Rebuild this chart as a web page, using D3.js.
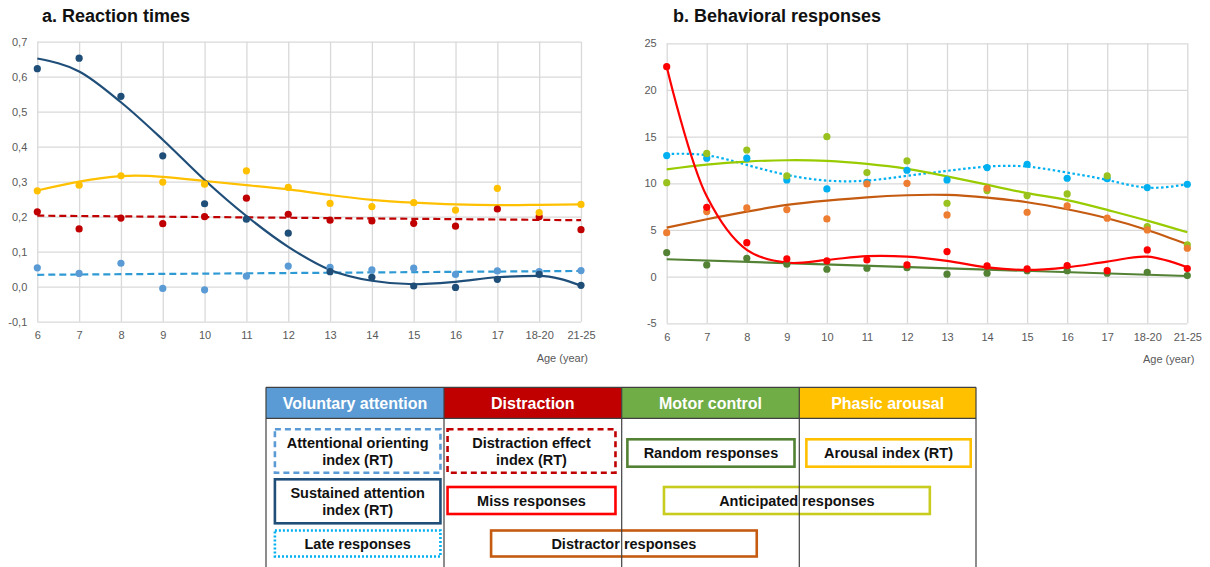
<!DOCTYPE html>
<html><head><meta charset="utf-8">
<script src="https://cdn.jsdelivr.net/npm/d3@7"></script>
<style>
body{margin:0;background:#fff}
svg{display:block}
text{font-family:"Liberation Sans",Arial,sans-serif}
</style>
</head><body>
<svg id="c" width="1210" height="567"></svg>
<script>
// ---------- categories ----------
const ages = ["6","7","8","9","10","11","12","13","14","15","16","17","18-20","21-25"];

// ---------- panel a: Reaction times ----------
const aTicks = [-0.1,0,0.1,0.2,0.3,0.4,0.5,0.6,0.7];
const sustainedPts = [0.623,0.653,0.544,0.374,0.237,0.193,0.153,0.043,0.027,0.002,-0.002,0.021,0.035,0.004];
const sustainedFit = [0.652,0.615,0.527,0.420,0.305,0.202,0.114,0.048,0.017,0.007,0.014,0.027,0.031,0.003];
const arousalPts = [0.274,0.290,0.317,0.299,0.293,0.331,0.284,0.238,0.229,0.240,0.219,0.281,0.212,0.235];
const arousalFit = [0.275,0.300,0.316,0.314,0.302,0.290,0.278,0.262,0.248,0.240,0.235,0.233,0.234,0.235];
const distrEffPts = [0.214,0.165,0.196,0.180,0.200,0.253,0.207,0.190,0.188,0.181,0.173,0.222,0.200,0.163];
const distrEffFit = [0.203,0.190];           // linear trend: first and last age
const orientPts = [0.054,0.038,0.067,-0.005,-0.009,0.030,0.059,0.055,0.048,0.053,0.035,0.045,0.043,0.046];
const orientFit = [0.034,0.045];             // linear trend: first and last age

// ---------- panel b: Behavioral responses ----------
const bTicks = [-5,0,5,10,15,20,25];
const missPts = [22.5,7.43,3.64,1.90,1.68,1.79,1.25,2.68,1.15,0.83,1.18,0.64,2.86,0.86];
const missFit = [22.5,8.6,2.86,1.5,1.79,2.2,2.14,1.68,1.0,0.72,1.0,1.61,2.14,1.0];
const distractorPts = [4.71,6.97,7.36,7.18,6.18,9.93,10.0,6.61,9.47,6.9,7.58,6.26,5.0,3.04];
const distractorFit = [5.25,6.15,6.97,7.68,8.15,8.5,8.72,8.75,8.47,7.97,7.22,6.26,5.0,3.47];
const anticipPts = [10.07,13.2,13.57,10.79,15.0,11.15,12.4,7.86,9.22,8.68,8.86,10.79,5.36,3.4];
const anticipFit = [11.5,12.0,12.33,12.47,12.4,12.08,11.55,10.75,9.85,8.95,8.2,7.15,6.0,4.75];
const latePts = [12.97,12.69,12.69,10.36,9.4,10.1,11.4,10.36,11.68,12.04,10.54,10.5,9.54,9.9];
const lateFit = [13.15,13.0,11.97,10.9,10.29,10.29,10.8,11.33,11.79,11.79,11.15,10.36,9.54,9.9];
const randomPts = [2.57,1.25,1.97,1.33,0.79,0.9,0.96,0.26,0.36,0.64,0.64,0.36,0.47,0.11];
const randomFit = [1.86,0.07];               // linear trend: first and last age

// ---------- legend table ----------
const groups = ["Voluntary attention","Distraction","Motor control","Phasic arousal"];
const groupColors = ["#5B9BD5","#C00000","#70AD47","#FFC000"];
const legendItems = [
  {lines:["Attentional orienting","index (RT)"], color:"#5B9BD5", dash:"6,4", col:0, x0:0.05, x1:0.98, row:0},
  {lines:["Sustained attention","index (RT)"], color:"#1F4E79", dash:null, col:0, x0:0.05, x1:0.98, row:1},
  {lines:["Late responses"], color:"#00B0F0", dash:"2,2", col:0, x0:0.05, x1:0.98, row:2},
  {lines:["Distraction effect","index (RT)"], color:"#C00000", dash:"6,4", col:1, x0:0.02, x1:0.965, row:0},
  {lines:["Miss responses"], color:"#FF0000", dash:null, col:1, x0:0.02, x1:0.965, row:1},
  {lines:["Distractor responses"], color:"#C55A11", dash:null, col:1, x0:0.265, x1:1.76, row:2},
  {lines:["Random responses"], color:"#548235", dash:null, col:2, x0:0.032, x1:0.973, row:0},
  {lines:["Arousal index (RT)"], color:"#FFC000", dash:null, col:3, x0:0.04, x1:0.97, row:0},
  {lines:["Anticipated responses"], color:"#C8CC1E", dash:null, col:2, x0:0.238, x1:1.735, row:1}
];

const svg = d3.select("#c");
const gridColor = "#D9D9D9";
const tickColor = "#595959";
const fmtA = v => v.toFixed(1).replace(".", ",");

function panel(opt){
  const g = svg.append("g");
  const x = d3.scalePoint().domain(ages).range([opt.x0, opt.x1]).padding(0);
  const y = d3.scaleLinear().domain(opt.yDomain).range([opt.yBottom, opt.yTop]);
  const w = opt.x1 - opt.x0, h = opt.yBottom - opt.yTop;

  const ya = g.append("g").attr("transform", `translate(${opt.x0},0)`)
    .call(d3.axisLeft(y).tickValues(opt.ticks).tickFormat(opt.fmt).tickSize(-w).tickPadding(opt.yPad));
  const xa = g.append("g").attr("transform", `translate(0,${opt.yBottom})`)
    .call(d3.axisBottom(x).tickSize(-h).tickPadding(10));
  [ya, xa].forEach(a => {
    a.select(".domain").remove();
    a.selectAll(".tick line").attr("stroke", gridColor).attr("stroke-width", 1.3);
    a.selectAll(".tick text").attr("fill", tickColor).style("font-size", "11px");
  });

  g.append("text").attr("x", opt.titleX).attr("y", 22)
    .style("font-size", "18px").style("font-weight", "bold").attr("fill", "#111")
    .text(opt.title);
  g.append("text").attr("x", opt.x1 + 7).attr("y", opt.yBottom + 40).attr("text-anchor", "end")
    .style("font-size", "11px").attr("fill", tickColor).text("Age (year)");

  const lin = d3.line().x(d => x(d[0])).y(d => y(d[1]));

  // trend lines
  opt.series.forEach(s => {
    let p;
    if (s.fit.length === 2) p = g.append("path").attr("d", lin([[ages[0], s.fit[0]], [ages[ages.length-1], s.fit[1]]]));
    else {
      const line = d3.line().x((d, i) => x(ages[i])).y(d => y(d))
        .curve(s.curve || d3.curveNatural);
      p = g.append("path").attr("d", line(s.fit));
    }
    p.attr("fill", "none").attr("stroke", s.lineColor).attr("stroke-width", s.lw || 2.2)
     .attr("stroke-dasharray", s.dash || null);
  });
  // points
  opt.series.forEach(s => {
    g.append("g").selectAll("circle").data(s.pts).join("circle")
      .attr("cx", (d, i) => x(ages[i])).attr("cy", d => y(d)).attr("r", 3.6)
      .attr("fill", s.ptColor);
  });
}

panel({
  title: "a. Reaction times", titleX: 42,
  x0: 37.3, x1: 581, yTop: 41.7, yBottom: 321.7, yDomain: [-0.1, 0.7],
  ticks: aTicks, fmt: fmtA, yPad: 10,
  series: [
    {pts: orientPts, fit: orientFit, ptColor: "#5B9BD5", lineColor: "#2E9AD4", dash: "7,4"},
    {pts: distrEffPts, fit: distrEffFit, ptColor: "#C00000", lineColor: "#C00000", dash: "7,4"},
    {pts: arousalPts, fit: arousalFit, ptColor: "#FFC000", lineColor: "#FFC000"},
    {pts: sustainedPts, fit: sustainedFit, ptColor: "#1F4E79", lineColor: "#1F4E79", curve: d3.curveMonotoneX}
  ]
});

panel({
  title: "b. Behavioral responses", titleX: 673,
  x0: 666.7, x1: 1187.3, yTop: 43.3, yBottom: 323.3, yDomain: [-5, 25],
  ticks: bTicks, fmt: d => String(d), yPad: 10,
  series: [
    {pts: latePts, fit: lateFit, ptColor: "#00B0F0", lineColor: "#00B0F0", dash: "2.5,2.5"},
    {pts: anticipPts, fit: anticipFit, ptColor: "#99C21E", lineColor: "#99CC00"},
    {pts: distractorPts, fit: distractorFit, ptColor: "#ED7D31", lineColor: "#C55A11"},
    {pts: randomPts, fit: randomFit, ptColor: "#548235", lineColor: "#548235"},
    {pts: missPts, fit: missFit, ptColor: "#FF0000", lineColor: "#FF0000", curve: d3.curveCatmullRom.alpha(0.5)}
  ]
});

// ---------- legend table ----------
const tbl = svg.append("g");
const colEdges = [266, 444, 621.7, 799.3, 976];
const colLeft = i => colEdges[i], colW = i => colEdges[i+1] - colEdges[i];
const tTop = 387.3, hBot = 418.3, tBottom = 570;

groups.forEach((gname, i) => {
  tbl.append("rect").attr("x", colLeft(i)).attr("y", tTop).attr("width", colW(i)).attr("height", hBot - tTop)
    .attr("fill", groupColors[i]);
  tbl.append("text").attr("x", colLeft(i) + colW(i)/2).attr("y", tTop + 22).attr("text-anchor", "middle")
    .attr("fill", "#fff").style("font-size", "16px").style("font-weight", "bold").text(gname);
});

const rowY = [[429.3, 472.7], [479.3, 523.3], [530.5, 556.5]];
const rowYsingle = {0: [439.3, 466.7], 1: [487, 514], 2: [530.5, 556.5]};
legendItems.forEach(it => {
  const L = colLeft(it.col), W = colW(it.col);
  const xa = L + it.x0 * W, xb = L + it.x1 * W;
  let yy;
  if (it.lines.length === 2) yy = rowY[it.row];
  else if (it.col === 0 && it.row === 2) yy = rowY[2];
  else yy = rowYsingle[it.row];
  tbl.append("rect").attr("x", xa).attr("y", yy[0]).attr("width", xb - xa).attr("height", yy[1] - yy[0])
    .attr("fill", "none").attr("stroke", it.color).attr("stroke-width", 2.6)
    .attr("stroke-dasharray", it.dash);
  const cy = (yy[0] + yy[1]) / 2;
  const n = it.lines.length;
  it.lines.forEach((t, k) => {
    tbl.append("text").attr("x", (xa + xb) / 2).attr("y", cy + (k - (n - 1) / 2) * 17 + 5)
      .attr("text-anchor", "middle").attr("fill", "#111")
      .style("font-size", "14.5px").style("font-weight", "bold").text(t);
  });
});

// table rules
const rule = (x1, y1, x2, y2) => tbl.append("line").attr("x1", x1).attr("y1", y1).attr("x2", x2).attr("y2", y2)
  .attr("stroke", "#404040").attr("stroke-width", 1.2);
rule(266, tTop, 976, tTop);
rule(266, hBot, 976, hBot);
colEdges.forEach(xv => rule(xv, tTop, xv, tBottom));
</script>
</body></html>
